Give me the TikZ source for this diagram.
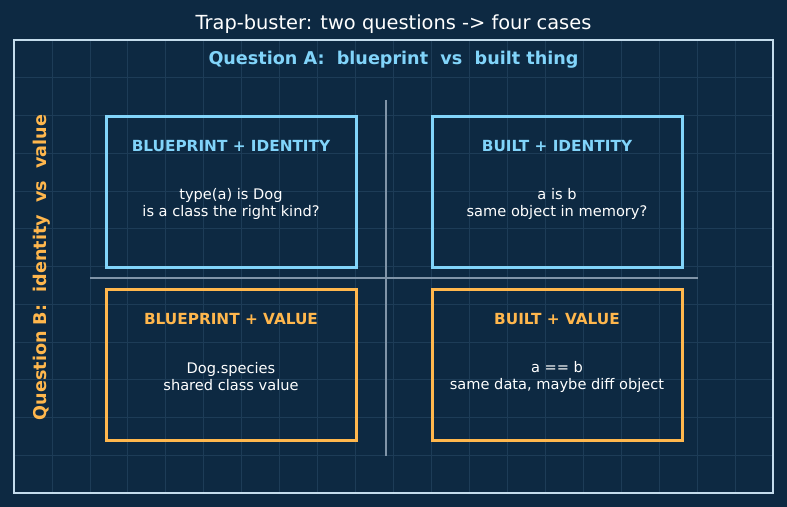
\documentclass[tikz,border=0pt]{standalone}
\usepackage{fontspec}
\setmainfont{DejaVu Sans}
\definecolor{bg}{HTML}{0D2942}
\definecolor{gridc}{HTML}{1D3C57}
\definecolor{framec}{HTML}{C4DCEC}
\definecolor{crossc}{HTML}{8094A8}
\definecolor{blu}{HTML}{81D4FA}
\definecolor{org}{HTML}{FFB74D}
\begin{document}
\begin{tikzpicture}[x=1bp,y=-1bp,
  quad/.style={draw=#1, line width=3bp, minimum width=250bp, minimum height=150bp, inner sep=0pt},
  qtitle/.style={text=#1, font=\fontsize{15.3bp}{18bp}\selectfont\bfseries},
  qbody/.style={text=white, align=center, font=\fontsize{14.6bp}{17bp}\selectfont},
  axlabel/.style={font=\fontsize{17.6bp}{20bp}\selectfont\bfseries}]
\fill[bg] (0,0) rectangle (787,507);
\useasboundingbox (0,0) rectangle (787,507);
% grid
\foreach \k in {1,...,19} \draw[gridc, line width=0.8bp] ({14+37.95*\k},40) -- ({14+37.95*\k},493);
\foreach \k in {1,...,11} \draw[gridc, line width=0.8bp] (14,{40+37.75*\k}) -- (773,{40+37.75*\k});
% frame
\node[draw=framec, line width=1.5bp, minimum width=759bp, minimum height=453bp, inner sep=0pt] (frame) at (393.5,266.5) {};
% title
\node[text=white, font=\fontsize{19.4bp}{22bp}\selectfont] (title) at (393.5,24) {Trap-buster: two questions -> four cases};
% axes labels
\node[axlabel, text=blu] (qa) at (393.5,59.5) {Question A:\ \ blueprint\ \ vs\ \ built thing};
\node[axlabel, text=org, rotate=90] (qb) at (42,267.5) {Question B:\ \ identity\ \ vs\ \ value};
% crosshair
\coordinate (vt) at (386,100);
\coordinate (vb) at (386,456);
\coordinate (hl) at (90,278);
\coordinate (hr) at (698,278);
\draw[crossc, line width=1.3bp] (vt) -- (vb);
\draw[crossc, line width=1.3bp] (hl) -- (hr);
% quadrants
\node[quad=blu] (bi) at (231,192) {};
\node[quad=blu] (ui) at (557,192) {};
\node[quad=org] (bv) at (231,365) {};
\node[quad=org] (uv) at (557,365) {};
\node[qtitle=blu] (bit) at ([yshift=45.5bp]bi.center) {BLUEPRINT + IDENTITY};
\node[qbody] (bib) at ([yshift=-12bp]bi.center) {type(a) is Dog\\is a class the right kind?};
\node[qtitle=blu] (uit) at ([yshift=45.5bp]ui.center) {BUILT + IDENTITY};
\node[qbody] (uib) at ([yshift=-12bp]ui.center) {a is b\\same object in memory?};
\node[qtitle=org] (bvt) at ([yshift=45.5bp]bv.center) {BLUEPRINT + VALUE};
\node[qbody] (bvb) at ([yshift=-12bp]bv.center) {Dog.species\\shared class value};
\node[qtitle=org] (uvt) at ([yshift=45.5bp]uv.center) {BUILT + VALUE};
\node[qbody] (uvb) at ([yshift=-12bp]uv.center) {a == b\\same data, maybe diff object};
\end{tikzpicture}
\end{document}
